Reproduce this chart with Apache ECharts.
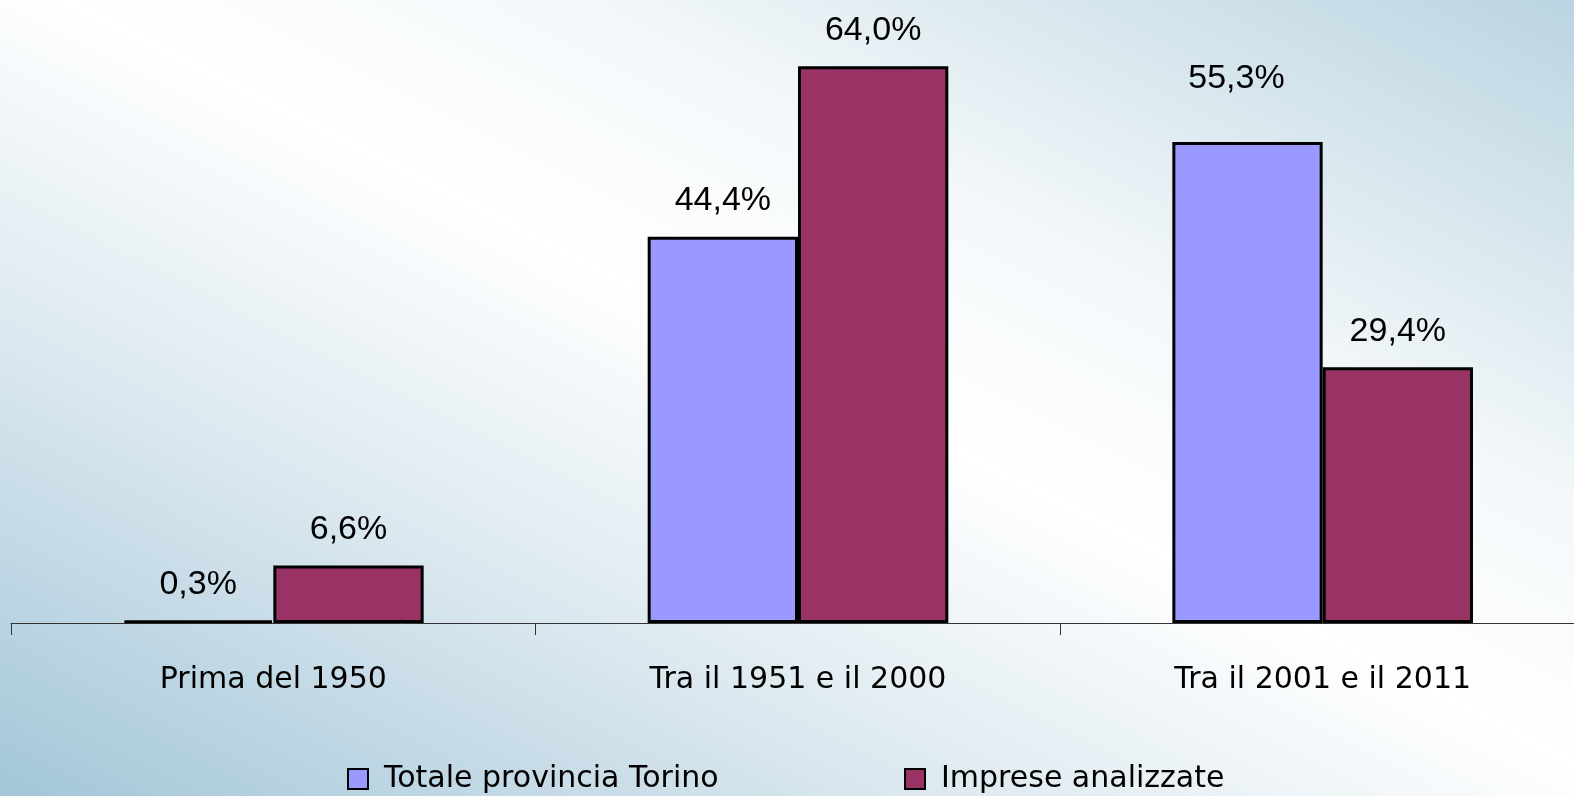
<!DOCTYPE html>
<html>
<head>
<meta charset="utf-8">
<script src="https://cdn.jsdelivr.net/npm/echarts@6/dist/echarts.min.js"></script>
<style>
  html, body { margin: 0; padding: 0; }
  body {
    width: 1574px; height: 796px;
    background: linear-gradient(to top right, #a3c6d8 0%, #dde9f0 30%, #ffffff 52%, #f4f8fa 68%, #bad4e1 100%);
  }
  #chart { width: 1574px; height: 796px; }
</style>
</head>
<body>
<div id="chart"></div>
<script>
// data
const categories = ['Prima del 1950', 'Tra il 1951 e il 2000', 'Tra il 2001 e il 2011'];
const seriesNames = ['Totale provincia Torino', 'Imprese analizzate'];
const totaleValues = [0.3, 44.4, 55.3];
const impreseValues = [6.6, 64.0, 29.4];

const fmt = p => p.value.toFixed(1).replace('.', ',') + '%';

const labelStyle = {
  show: true,
  position: 'top',
  distance: 19,
  color: '#000',
  fontFamily: 'Liberation Sans',
  fontSize: 34,
  formatter: fmt
};

// the 55,3% label sits higher and a bit left in the original
const totaleData = totaleValues.map((v, i) => i === 2
  ? { value: v, label: { distance: 46, offset: [-11, 0] } }
  : v);

const legendBase = {
  padding: 0, top: 764,
  itemWidth: 20, itemHeight: 20, icon: 'rect',
  itemStyle: { borderColor: '#000', borderWidth: 2 },
  textStyle: { fontFamily: 'DejaVu Sans', fontSize: 30, color: '#000', padding: [0, 0, 0, 11] }
};

const chart = echarts.init(document.getElementById('chart'));
chart.setOption({
  backgroundColor: 'transparent',
  animation: false,
  grid: { left: 11, width: 1574, top: 14, bottom: 173, outerBoundsMode: 'none', containLabel: false },
  legend: [
    Object.assign({}, legendBase, { data: [seriesNames[0]], left: 347 }),
    Object.assign({}, legendBase, { data: [seriesNames[1]], left: 904 })
  ],
  xAxis: {
    type: 'category',
    data: categories,
    axisLine: { lineStyle: { color: '#333', width: 1 } },
    axisTick: { show: true, length: 12, lineStyle: { color: '#333' } },
    axisLabel: { color: '#000', fontFamily: 'DejaVu Sans', fontSize: 30, margin: 42 }
  },
  yAxis: {
    type: 'value',
    min: 0, max: 70,
    show: false,
    splitLine: { show: false }
  },
  series: [
    {
      name: seriesNames[0],
      type: 'bar',
      data: totaleData,
      barGap: '0%',
      barCategoryGap: '42.7%',
      itemStyle: { color: '#9999ff', borderColor: '#000', borderWidth: 3 },
      label: labelStyle
    },
    {
      name: seriesNames[1],
      type: 'bar',
      data: impreseValues,
      itemStyle: { color: '#993366', borderColor: '#000', borderWidth: 3 },
      label: labelStyle
    }
  ]
});
</script>
</body>
</html>
